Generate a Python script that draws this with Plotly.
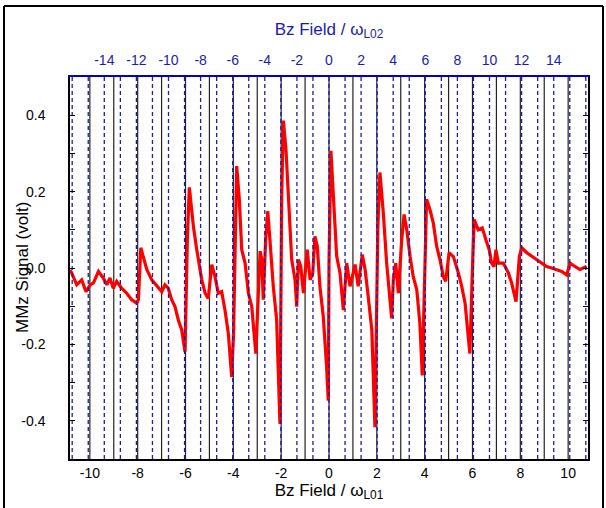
import plotly.graph_objects as go

# Red signal trace (Bz field in units of omega_L01, signal in volt)
field = [-10.83, -10.76, -10.55, -10.34, -10.16, -9.99, -9.85, -9.64, -9.44, -9.29,
         -9.16, -9.02, -8.88, -8.67, -8.46, -8.25, -8.04, -7.97, -7.87, -7.76,
         -7.62, -7.41, -7.20, -6.99, -6.86, -6.72, -6.58, -6.44, -6.30, -6.16,
         -6.02, -5.92, -5.84, -5.75, -5.67, -5.53, -5.32, -5.18, -5.05, -4.90, -4.77,
         -4.63, -4.49, -4.35, -4.21, -4.07, -3.99, -3.86, -3.80, -3.75, -3.65, -3.51,
         -3.37, -3.23, -3.06, -3.00, -2.88, -2.81, -2.75, -2.65, -2.56, -2.47,
         -2.33, -2.19, -2.05, -1.98, -1.91, -1.80, -1.70, -1.56, -1.42, -1.35,
         -1.28, -1.18, -1.07, -0.91, -0.79, -0.68, -0.59, -0.49, -0.38, -0.24,
         -0.10, -0.03, 0.00, 0.08, 0.13, 0.18, 0.32, 0.46, 0.60, 0.74, 0.88,
         1.09, 1.22, 1.39, 1.51, 1.64, 1.79, 1.92, 2.04, 2.13, 2.20, 2.27,
         2.41, 2.55, 2.62, 2.69, 2.79, 2.90, 3.04, 3.14, 3.25, 3.39,
         3.52, 3.67, 3.80, 3.90, 4.01, 4.08, 4.22, 4.36, 4.50, 4.64,
         4.78, 4.88, 5.02, 5.20, 5.41, 5.55, 5.69, 5.82, 5.89, 6.01,
         6.07, 6.24, 6.41, 6.56, 6.70, 6.80, 6.90, 6.98, 7.08, 7.29,
         7.50, 7.64, 7.82, 7.96, 8.06, 8.27, 8.47, 8.68, 8.89, 9.10,
         9.31, 9.52, 9.73, 9.94, 10.08, 10.28, 10.49, 10.77]
signal = [-0.005, -0.013, -0.044, -0.031, -0.062, -0.044, -0.039, -0.009, -0.026, -0.044,
          -0.026, -0.053, -0.035, -0.053, -0.066, -0.083, -0.092, -0.083, 0.053, 0.031,
          -0.004, -0.031, -0.048, -0.062, -0.044, -0.053, -0.083, -0.101, -0.136, -0.162,
          -0.219, 0.083, 0.211, 0.150, 0.109, 0.048, -0.031, -0.066, -0.080, 0.009, -0.022,
          -0.066, -0.062, -0.110, -0.171, -0.285, -0.170, 0.267, 0.230, 0.180, 0.048, 0.013,
          -0.066, -0.101, -0.224, -0.127, 0.044, 0.022, -0.083, 0.074, 0.149, 0.074,
          -0.048, -0.136, -0.408, 0.180, 0.386, 0.311, 0.180, 0.022, -0.031, -0.101,
          0.022, 0.004, -0.066, 0.048, -0.031, -0.013, 0.083, 0.057, -0.048, -0.127,
          -0.259, -0.347, 0.013, 0.307, 0.250, 0.188, 0.031, -0.013, -0.110, 0.013, -0.048,
          0.009, -0.048, 0.035, -0.004, -0.075, -0.162, -0.417, 0.101, 0.250, 0.200, 0.145,
          0.013, -0.101, -0.132, -0.031, 0.013, -0.066, 0.074, 0.140, 0.101, 0.031,
          -0.022, -0.057, -0.145, -0.281, 0.057, 0.180, 0.153, 0.118, 0.057, 0.022,
          -0.022, -0.035, 0.040, 0.030, -0.013, -0.048, -0.092, -0.180, -0.224, 0.022,
          0.127, 0.100, 0.105, 0.074, 0.048, 0.013, 0.004, 0.048, 0.013, 0.013,
          -0.013, -0.040, -0.088, 0.031, 0.053, 0.040, 0.031, 0.022, 0.013, 0.004,
          0.000, -0.004, -0.009, -0.018, 0.013, 0.004, -0.004, 0.004]

# Resonance marker positions
l01_lines = list(range(-10, 11))   # integer multiples of omega_L01 (bottom axis)
l02_lines = list(range(-16, 17))   # integer multiples of omega_L02 (top axis)

bottom_ticks = list(range(-10, 11, 2))
top_ticks = list(range(-14, 15, 2))
y_ticks = [-0.4, -0.2, 0.0, 0.2, 0.4]

ratio = 1.49
x_range = [-10.83, 10.83]
y_range = [-0.5, 0.5]

FONT = "Liberation Sans, Arial, sans-serif"
BLUE = "#1c1ca8"


def vsegments(vals, lo, hi):
    xs, ys = [], []
    for v in vals:
        xs += [v, v, None]
        ys += [lo, hi, None]
    return xs, ys


fig = go.Figure()

bx, by = vsegments(l01_lines, y_range[0], y_range[1])
fig.add_trace(go.Scatter(x=bx, y=by, mode="lines", xaxis="x", yaxis="y",
                         line=dict(color="#222222", width=1.2),
                         hoverinfo="skip", showlegend=False))

tx, ty = vsegments(l02_lines, y_range[0], y_range[1])
fig.add_trace(go.Scatter(x=tx, y=ty, mode="lines", xaxis="x2", yaxis="y",
                         line=dict(color=BLUE, width=1.3, dash="4px,3px"),
                         hoverinfo="skip", showlegend=False))

fig.add_trace(go.Scatter(x=field, y=signal, mode="lines", xaxis="x", yaxis="y",
                         line=dict(color="#ff0000", width=3.2),
                         showlegend=False))

fig.update_layout(
    width=606, height=508,
    margin=dict(l=70, r=18, t=77, b=49, autoexpand=False),
    paper_bgcolor="white", plot_bgcolor="white",
    font=dict(family=FONT, size=14, color="black"),
    showlegend=False,
    xaxis=dict(
        range=x_range, tickvals=bottom_ticks, automargin=False,
        ticktext=[str(t) for t in bottom_ticks],
        showline=True, linecolor="black", linewidth=1.5, mirror=False,
        ticks="", showgrid=False, zeroline=False,
        tickfont=dict(size=14, color="black"),
        title=dict(text="Bz Field / ω<sub>L01</sub>", font=dict(size=17), standoff=2),
    ),
    xaxis2=dict(
        range=[x_range[0] * ratio, x_range[1] * ratio], overlaying="x", side="top",
        tickvals=top_ticks, ticktext=[str(t) for t in top_ticks], automargin=False,
        showline=True, linecolor="#0000cc", linewidth=1.5,
        ticks="", showgrid=False, zeroline=False,
        tickfont=dict(size=14, color=BLUE),
        ticklabelstandoff=5,
        title=dict(text="Bz Field / ω<sub>L02</sub>", font=dict(size=17, color=BLUE), standoff=12),
    ),
    yaxis=dict(
        range=y_range, tickvals=y_ticks, automargin=False,
        ticktext=["-0.4", "-0.2", "0.0", "0.2", "0.4"],
        showline=True, linecolor="black", linewidth=1.5, mirror="ticks",
        ticks="inside", ticklen=5, tickcolor="black",
        minor=dict(dtick=0.1, ticks="inside", ticklen=5, tickcolor="black"),
        showgrid=False, zeroline=False,
        tickfont=dict(size=14),
        ticklabelstandoff=20,
    ),
)

fig.add_annotation(text="MMz Signal (volt)", xref="paper", yref="paper",
                   x=(22 - 70) / 518.0, y=0.5, textangle=-90, showarrow=False,
                   xanchor="center", yanchor="middle", font=dict(size=17, color="black"))

# outer frame of the figure
W, H = 518.0, 382.0
def px(p):
    return (p - 70) / W
def py(p):
    return (459 - p) / H

for (x0, y0, x1, y1) in [(4, 6, 4, 508), (4, 6, 603, 6), (603, 6, 603, 508)]:
    fig.add_shape(type="line", xref="paper", yref="paper",
                  x0=px(x0), y0=py(y0), x1=px(x1), y1=py(y1),
                  line=dict(color="black", width=2))

fig.write_html("out.html")
